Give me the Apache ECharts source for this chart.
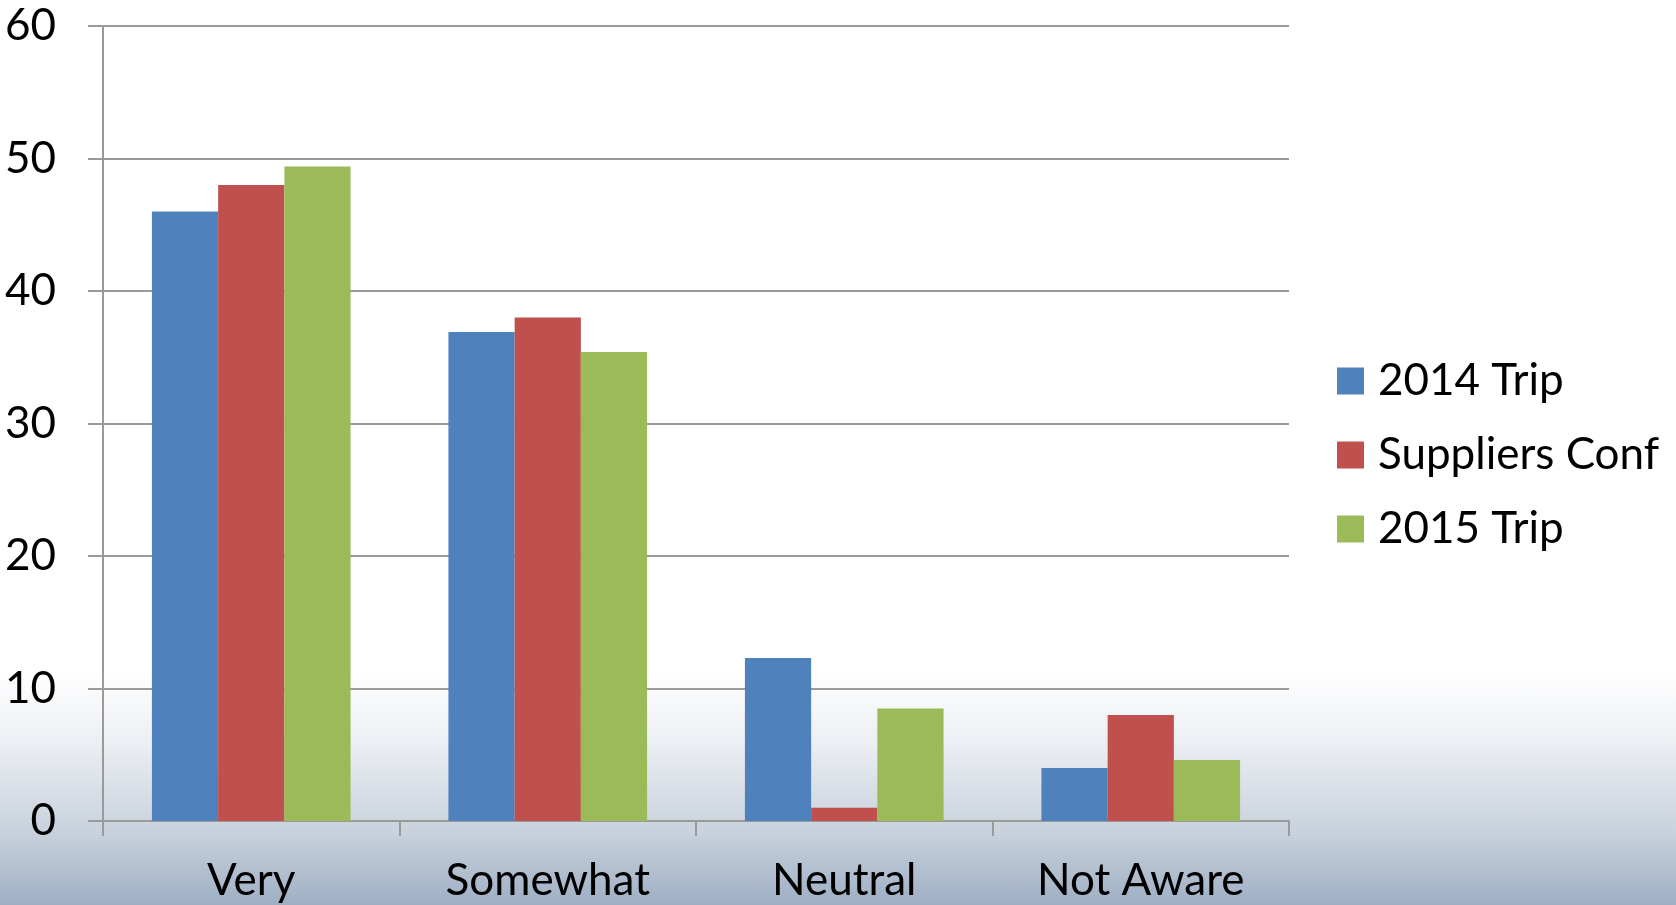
<!DOCTYPE html>
<html>
<head>
<meta charset="utf-8">
<script src="https://cdn.jsdelivr.net/npm/echarts@6/dist/echarts.min.js"></script>
<style>
html,body{margin:0;padding:0;}
#chart{width:1676px;height:905px;background:linear-gradient(to bottom,#ffffff 0%,#ffffff 74%,#eceff3 82%,#c8d1dc 92%,#9eafc4 100%);}
</style>
</head>
<body>
<div id="chart"></div>
<script>
const categories = ['Very', 'Somewhat', 'Neutral', 'Not Aware'];
const trip2014 = [46, 36.9, 12.3, 4];
const suppliersConf = [48, 38, 1, 8];
const trip2015 = [49.4, 35.4, 8.5, 4.6];
const seriesNames = ['2014 Trip', 'Suppliers Conf', '2015 Trip'];
const yTicks = { min: 0, max: 60, interval: 10 };

const chart = echarts.init(document.getElementById('chart'), null, { renderer: 'canvas' });
const font = 'Lato, "Open Sans", sans-serif';
const gray = '#9a9a9a';
chart.setOption({
  backgroundColor: 'transparent',
  animation: false,
  color: ['#4f81bd', '#c0504d', '#9bbb59'],
  grid: { left: 103, top: 26, right: 387, bottom: 84, containLabel: false },
  legend: {
    orient: 'vertical',
    left: 1332,
    top: 354,
    itemWidth: 27,
    itemHeight: 27,
    itemGap: 30,
    icon: 'rect',
    data: seriesNames,
    textStyle: { fontFamily: font, fontSize: 44, color: '#000', padding: [0, 0, 0, 9] }
  },
  xAxis: {
    type: 'category',
    data: categories,
    axisLine: { lineStyle: { color: gray, width: 2 } },
    axisTick: { show: true, length: 15, lineStyle: { color: gray, width: 2 }, alignWithLabel: false },
    axisLabel: { fontFamily: font, fontSize: 44, color: '#000', margin: 38 },
    splitLine: { show: false }
  },
  yAxis: {
    type: 'value',
    min: yTicks.min,
    max: yTicks.max,
    interval: yTicks.interval,
    axisLine: { show: true, lineStyle: { color: gray, width: 2 } },
    axisTick: { show: true, length: 15, lineStyle: { color: gray, width: 2 } },
    axisLabel: { fontFamily: font, fontSize: 44, color: '#000', margin: 47 },
    splitLine: { show: true, lineStyle: { color: gray, width: 2 } }
  },
  series: [
    { name: seriesNames[0], type: 'bar', data: trip2014, barGap: '0%', barCategoryGap: '33%' },
    { name: seriesNames[1], type: 'bar', data: suppliersConf, barGap: '0%', barCategoryGap: '33%' },
    { name: seriesNames[2], type: 'bar', data: trip2015, barGap: '0%', barCategoryGap: '33%' }
  ]
});
</script>
</body>
</html>
